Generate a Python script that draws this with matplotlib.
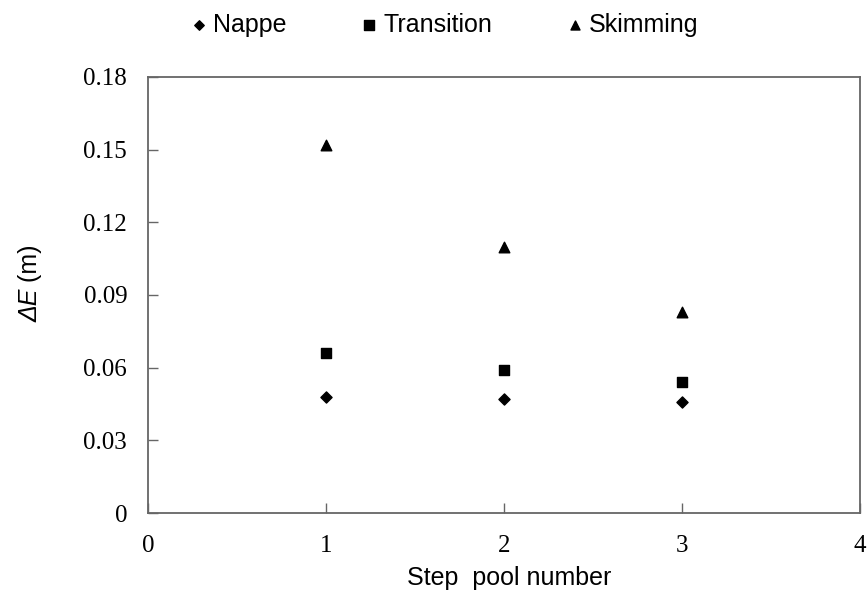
import matplotlib

matplotlib.use("Agg")

import matplotlib.pyplot as plt

# step pool number on x, energy loss in metres on y
pools = [1, 2, 3]
nappe = [0.048, 0.047, 0.046]
transition = [0.066, 0.059, 0.054]
skimming = [0.152, 0.110, 0.083]

x_ticks = [0, 1, 2, 3, 4]
y_ticks = [0, 0.03, 0.06, 0.09, 0.12, 0.15, 0.18]
y_tick_labels = ["0", "0.03", "0.06", "0.09", "0.12", "0.15", "0.18"]

W, H = 867, 592
fig = plt.figure(figsize=(W / 100, H / 100), dpi=100)
ax = fig.add_axes([0.1707, 0.1334, 0.821, 0.7366])

ax.scatter(pools, nappe, marker="D", s=32, color="black", label="Nappe", zorder=3)
ax.scatter(pools, transition, marker="s", s=62, color="black", label="Transition", zorder=3)
ax.scatter(pools, skimming, marker="^", s=58, color="black", label="Skimming", zorder=3)

ax.set_xlim(0, 4)
ax.set_ylim(0, 0.18)
ax.set_xticks(x_ticks)
ax.set_yticks(y_ticks)
ax.set_yticklabels(y_tick_labels)
ax.tick_params(direction="in", length=7, width=1, color="#666666")
ax.tick_params(axis="y", pad=15)
ax.tick_params(axis="x", pad=16)
for label in ax.get_xticklabels() + ax.get_yticklabels():
    label.set_fontfamily("Liberation Serif")
    label.set_fontsize(18)
for spine in ax.spines.values():
    spine.set_color("#666666")
    spine.set_linewidth(1.3)

ax.set_xlabel("Step  pool number", fontfamily="Liberation Sans", fontsize=18, va="center")
ax.xaxis.set_label_coords(0.507, -0.149)

# y label: italic "ΔE" followed by upright " (m)", laid out bottom to top
label_font = {"family": "Liberation Sans", "size": 18}
renderer = fig.canvas.get_renderer()
part1 = fig.text(0, 0, "ΔE", fontstyle="italic", **label_font)
part2 = fig.text(0, 0, " (m)", **label_font)
w1 = part1.get_window_extent(renderer).width
w2 = part2.get_window_extent(renderer).width
part1.remove()
part2.remove()
x_center, y_center = 30, H - 283
y_start = y_center - (w1 + w2) / 2
fig.text(x_center / W, y_start / H, "ΔE", fontstyle="italic", rotation=90,
         rotation_mode="anchor", ha="left", va="center", **label_font)
fig.text(x_center / W, (y_start + w1) / H, " (m)", rotation=90,
         rotation_mode="anchor", ha="left", va="center", **label_font)

ax.legend(loc="center", bbox_to_anchor=(445 / W, 0.958), bbox_transform=fig.transFigure,
          ncol=3, frameon=False, prop={"family": "Liberation Sans", "size": 18},
          markerscale=0.85, handlelength=0.6, handletextpad=0.26, columnspacing=3.0)

fig.savefig("out.png", dpi=100)
